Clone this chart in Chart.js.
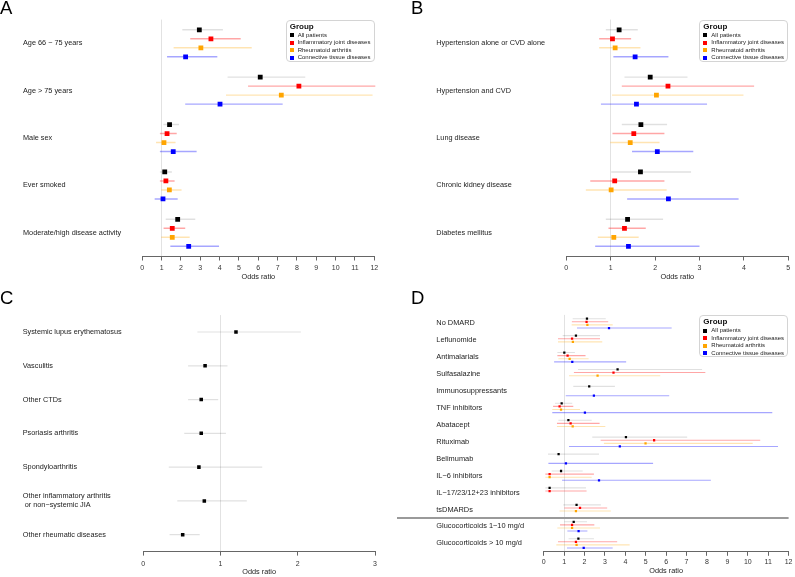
<!DOCTYPE html>
<html>
<head>
<meta charset="utf-8">
<script src="https://cdn.jsdelivr.net/npm/chart.js@4.4.1/dist/chart.umd.min.js"></script>
<style>
  body { margin: 0; background: #fff; font-family: "Liberation Sans", Arial, sans-serif; }
  #page { position: relative; width: 795px; height: 577px; overflow: hidden; }
  .panel { position: absolute; }
  .letter { position: absolute; font-size: 18.5px; line-height: 18.5px; color: #000; }
  .legend { position: absolute; width: 89px; height: 42px; border: 1px solid #d4d4d4; border-radius: 4px;
            background: #fff; box-sizing: border-box; }
  .legend .ttl { position: absolute; left: 3px; top: 1px; font-size: 8px; font-weight: bold; color: #111; line-height: 10px; }
  .legend .item { position: absolute; left: 3px; font-size: 6px; line-height: 7px; color: #222; white-space: nowrap; }
  .legend .sw { display: inline-block; width: 4px; height: 4px; margin-right: 4px; vertical-align: -0.5px; }
</style>
</head>
<body>
<div id="page">
  <div class="panel" style="left:0;top:0"><canvas id="chartA" width="397" height="288"></canvas></div>
  <div class="panel" style="left:397px;top:0"><canvas id="chartB" width="398" height="288"></canvas></div>
  <div class="panel" style="left:0;top:288px"><canvas id="chartC" width="397" height="289"></canvas></div>
  <div class="panel" style="left:397px;top:288px"><canvas id="chartD" width="398" height="289"></canvas></div>
  <div class="letter" style="left:0;top:-1px">A</div>
  <div class="letter" style="left:411px;top:-1px">B</div>
  <div class="letter" style="left:0;top:288.5px">C</div>
  <div class="letter" style="left:411px;top:288.5px">D</div>
</div>
<script>
// groups + colours
const groups = ['All patients', 'Inflammatory joint diseases', 'Rheumatoid arthritis', 'Connective tissue diseases'];
const groupColors = ['#000000', '#ff0000', '#ffa500', '#0000ff'];
const ciColors = ['rgba(0,0,0,0.12)', 'rgba(255,0,0,0.35)', 'rgba(255,165,0,0.3)', 'rgba(0,0,255,0.35)'];

// each entry: [odds ratio, lower CI, upper CI]; null = not estimated

// Panel A
const aRows = ['Age 66 \u2212 75 years', 'Age > 75 years', 'Male sex', 'Ever smoked', 'Moderate/high disease activity'];
const aAll = [[2.95, 2.07, 4.17], [6.10, 4.41, 8.43], [1.41, 1.09, 1.90], [1.16, 0.91, 1.53], [1.83, 1.21, 2.74]];
const aIJD = [[3.55, 2.48, 5.09], [8.10, 5.47, 12.2], [1.28, 0.91, 1.78], [1.22, 0.91, 1.67], [1.55, 1.10, 2.22]];
const aRA  = [[3.03, 1.62, 5.66], [7.19, 4.33, 11.91], [1.12, 0.71, 1.72], [1.40, 0.98, 2.03], [1.55, 0.98, 2.45]];
const aCTD = [[2.24, 1.28, 3.88], [4.02, 2.22, 7.26], [1.60, 0.91, 2.81], [1.07, 0.64, 1.83], [2.40, 1.45, 3.97]];
const aTicks = [0, 1, 2, 3, 4, 5, 6, 7, 8, 9, 10, 11, 12];

// Panel B
const bRows = ['Hypertension alone or CVD alone', 'Hypertension and CVD', 'Lung disease', 'Chronic kidney disease', 'Diabetes mellitus'];
const bAll = [[1.19, 0.89, 1.61], [1.89, 1.31, 2.73], [1.68, 1.25, 2.27], [1.67, 1.01, 2.81], [1.38, 0.89, 2.18]];
const bIJD = [[1.04, 0.74, 1.46], [2.29, 1.25, 4.23], [1.52, 1.04, 2.21], [1.09, 0.54, 2.21], [1.31, 0.95, 1.79]];
const bRA  = [[1.10, 0.74, 1.67], [2.03, 1.03, 3.99], [1.44, 0.99, 2.10], [1.01, 0.44, 2.26], [1.07, 0.71, 1.63]];
const bCTD = [[1.55, 1.06, 2.30], [1.58, 0.78, 3.17], [2.05, 1.48, 2.86], [2.30, 1.37, 3.88], [1.40, 0.65, 3.00]];
const bTicks = [0, 1, 2, 3, 4, 5];

// Panel C
const cRows = ['Systemic lupus erythematosus', 'Vasculitis', 'Other CTDs', 'Psoriasis arthritis', 'Spondyloarthritis',
  ['Other inflammatory arthritis', ' or non\u2212systemic JIA'], 'Other rheumatic diseases'];
const cAll = [[1.20, 0.70, 2.04], [0.80, 0.58, 1.09], [0.75, 0.58, 0.97], [0.75, 0.53, 1.07], [0.72, 0.33, 1.54],
  [0.79, 0.44, 1.34], [0.51, 0.34, 0.73]];
const cTicks = [0, 1, 2, 3];

// Panel D
const dRows = ['No DMARD', 'Leflunomide', 'Antimalarials', 'Sulfasalazine', 'Immunosuppressants', 'TNF inhibitors',
  'Abatacept', 'Rituximab', 'Belimumab', 'IL\u22126 inhibitors', 'IL\u221217/23/12+23 inhibitors', 'tsDMARDs',
  'Glucocorticoids 1\u221210 mg/d', 'Glucocorticoids > 10 mg/d'];
const dAll = [[2.12, 1.42, 3.04], [1.58, 0.93, 2.76], [1.01, 0.67, 1.53], [3.62, 1.68, 7.76], [2.23, 1.45, 3.49],
  [0.88, 0.55, 1.40], [1.21, 0.72, 2.35], [4.03, 2.38, 7.03], [0.73, 0.21, 2.71], [0.85, 0.39, 1.91],
  [0.29, 0.08, 2.07], [1.61, 0.96, 2.80], [1.47, 1.01, 2.12], [1.70, 1.22, 2.46]];
const dIJD = [[2.10, 1.38, 3.16], [1.39, 0.70, 2.76], [1.17, 0.67, 2.05], [3.42, 1.48, 7.92], null,
  [0.78, 0.46, 1.45], [1.32, 0.65, 2.74], [5.41, 2.79, 10.61], null, [0.29, 0.08, 2.46],
  [0.29, 0.08, 2.10], [1.78, 1.01, 3.11], [1.39, 0.80, 2.48], [1.58, 0.70, 3.60]];
const dRA  = [[2.14, 1.37, 3.38], [1.43, 0.70, 2.87], [1.27, 0.72, 2.20], [2.64, 1.24, 5.71], null,
  [0.85, 0.42, 1.78], [1.42, 0.65, 3.02], [4.99, 2.95, 10.24], null, [0.29, 0.08, 2.35],
  null, [1.58, 0.78, 3.29], [1.39, 0.67, 2.76], [1.61, 0.62, 4.21]];
const dCTD = [[3.20, 1.63, 6.27], null, [1.40, 0.51, 4.04], null, [2.46, 1.08, 6.15],
  [2.02, 0.42, 11.2], null, [3.73, 1.24, 11.48], [1.09, 0.23, 5.36], [2.71, 0.90, 8.19],
  null, null, [1.71, 1.16, 2.14], [1.96, 1.14, 3.38]];
const dTicks = [0, 1, 2, 3, 4, 5, 6, 7, 8, 9, 10, 11, 12];

const family = '"Liberation Sans", Arial, sans-serif';

// confidence interval lines, drawn under the markers
const ciPlugin = {
  id: 'ciLines',
  beforeDatasetsDraw(chart) {
    const { ctx, chartArea, scales: { x } } = chart;
    ctx.save();
    ctx.beginPath();
    ctx.rect(chartArea.left, chartArea.top - 10, chartArea.width + 1, chartArea.height + 20);
    ctx.clip();
    chart.data.datasets.forEach((ds, di) => {
      const meta = chart.getDatasetMeta(di);
      ctx.strokeStyle = ds.ciColor;
      ctx.lineWidth = ds.ciWidth;
      ds.data.forEach((d, i) => {
        const y = meta.data[i].y;
        ctx.beginPath();
        ctx.moveTo(x.getPixelForValue(d.lo), y);
        ctx.lineTo(x.getPixelForValue(d.hi), y);
        ctx.stroke();
      });
    });
    ctx.restore();
  }
};

// grey rule between DMARDs and glucocorticoids (panel D)
const separatorPlugin = {
  id: 'separator',
  beforeDatasetsDraw(chart, args, opts) {
    if (opts.at == null) return;
    const { ctx, chartArea, scales: { y } } = chart;
    const py = y.getPixelForValue(opts.at);
    ctx.save();
    ctx.strokeStyle = '#9a9a9a';
    ctx.lineWidth = 2;
    ctx.beginPath();
    ctx.moveTo(0, py);
    ctx.lineTo(chartArea.right, py);
    ctx.stroke();
    ctx.restore();
  }
};

function makePanel(id, p) {
  const n = p.rows.length;
  const datasets = [];
  p.series.forEach((rows, g) => {
    if (!rows) return;
    const off = p.groupOffsets[g];
    const data = [];
    rows.forEach((r, i) => {
      if (r) data.push({ x: r[0], y: i + off, lo: r[1], hi: r[2] });
    });
    datasets.push({
      label: groups[g],
      data: data,
      pointStyle: 'rect',
      pointRadius: p.markerR,
      pointHoverRadius: p.markerR,
      pointBorderWidth: 0,
      pointBackgroundColor: groupColors[g],
      ciColor: ciColors[g],
      ciWidth: p.ciWidth,
      showLine: false
    });
  });

  return new Chart(document.getElementById(id), {
    type: 'scatter',
    data: { datasets },
    options: {
      responsive: false,
      animation: false,
      events: [],
      layout: { padding: p.padding },
      plugins: {
        legend: { display: false },
        tooltip: { enabled: false },
        separator: { at: p.separatorAt }
      },
      scales: {
        x: {
          type: 'linear',
          min: 0,
          max: p.ticks[p.ticks.length - 1],
          afterBuildTicks: s => { s.ticks = p.ticks.map(v => ({ value: v })); },
          afterFit: s => { s.height = p.xHeight; },
          grid: {
            color: c => (c.tick && c.tick.value === 1) ? '#e2e2e2' : 'rgba(0,0,0,0)',
            tickColor: '#666',
            tickLength: 4,
            lineWidth: 1
          },
          border: { display: true, color: '#666', width: 1 },
          ticks: { color: '#333', font: { family, size: 7 }, padding: p.tickPad, maxRotation: 0, autoSkip: false },
          title: { display: true, text: 'Odds ratio', color: '#222', font: { family, size: 7.3 },
                   padding: { top: 0, bottom: p.titlePad } }
        },
        y: {
          type: 'linear',
          reverse: true,
          min: -0.5,
          max: n - 0.5,
          afterBuildTicks: s => { s.ticks = p.rows.map((_, i) => ({ value: i })); },
          afterFit: s => { s.width = p.yWidth; },
          grid: { display: false },
          border: { display: false },
          ticks: {
            crossAlign: 'far',
            autoSkip: false,
            color: '#222',
            font: { family, size: p.labelSize, lineHeight: 1.25 },
            callback: v => p.rows[v]
          }
        }
      }
    },
    plugins: [ciPlugin, separatorPlugin]
  });
}

const offs4 = [-0.285, -0.095, 0.095, 0.285];
const offsD = [-0.275, -0.092, 0.092, 0.275];

makePanel('chartA', {
  rows: aRows, series: [aAll, aIJD, aRA, aCTD], ticks: aTicks, groupOffsets: offs4,
  padding: { left: 23, right: 22.7, top: 19.6, bottom: 0 }, yWidth: 119.3, xHeight: 31.5,
  tickPad: 3, titlePad: 6.6, markerR: 3.4, ciWidth: 1.4, labelSize: 7.3
});
makePanel('chartB', {
  rows: bRows, series: [bAll, bIJD, bRA, bCTD], ticks: bTicks, groupOffsets: offs4,
  padding: { left: 39.3, right: 6.7, top: 19.6, bottom: 0 }, yWidth: 130, xHeight: 31.5,
  tickPad: 3, titlePad: 6.6, markerR: 3.4, ciWidth: 1.4, labelSize: 7.3
});
makePanel('chartC', {
  rows: cRows, series: [cAll], ticks: cTicks, groupOffsets: [0],
  padding: { left: 22.7, right: 22, top: 27.1, bottom: 0 }, yWidth: 120.6, xHeight: 25.4,
  tickPad: 4.5, titlePad: 1, markerR: 2.5, ciWidth: 1.2, labelSize: 7.3
});
makePanel('chartD', {
  rows: dRows, series: [dAll, dIJD, dRA, dCTD], ticks: dTicks, groupOffsets: offsD,
  padding: { left: 39.3, right: 6, top: 26.9, bottom: 0 }, yWidth: 107.4, xHeight: 25.2,
  tickPad: 2.5, titlePad: 1.6, markerR: 1.6, ciWidth: 1.1, labelSize: 7.4, separatorAt: 11.5
});

// legends
function makeLegend(left, top) {
  const box = document.createElement('div');
  box.className = 'legend';
  box.style.left = left + 'px';
  box.style.top = top + 'px';
  const t = document.createElement('div');
  t.className = 'ttl';
  t.textContent = 'Group';
  box.appendChild(t);
  groups.forEach((g, i) => {
    const it = document.createElement('div');
    it.className = 'item';
    it.style.top = (11 + i * 7.6) + 'px';
    const sw = document.createElement('span');
    sw.className = 'sw';
    sw.style.background = groupColors[i];
    it.appendChild(sw);
    it.appendChild(document.createTextNode(g));
    box.appendChild(it);
  });
  document.getElementById('page').appendChild(box);
}
makeLegend(285.7, 19.5);
makeLegend(699.3, 19.5);
makeLegend(699.3, 315);
</script>
</body>
</html>
